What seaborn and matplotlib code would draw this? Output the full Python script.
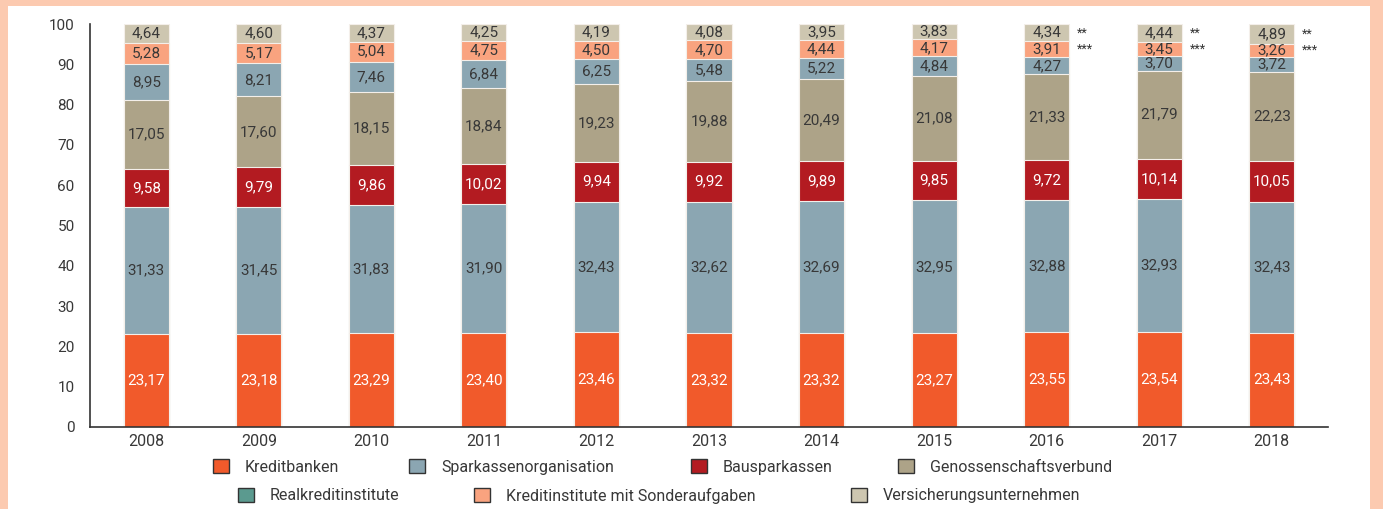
import matplotlib
matplotlib.use("Agg")
import matplotlib.pyplot as plt
import seaborn as sns
import numpy as np
import pandas as pd
from matplotlib.patches import Rectangle

years = ["2008", "2009", "2010", "2011", "2012", "2013", "2014", "2015", "2016", "2017", "2018"]
kreditbanken = [23.17, 23.18, 23.29, 23.40, 23.46, 23.32, 23.32, 23.27, 23.55, 23.54, 23.43]
sparkassen = [31.33, 31.45, 31.83, 31.90, 32.43, 32.62, 32.69, 32.95, 32.88, 32.93, 32.43]
bausparkassen = [9.58, 9.79, 9.86, 10.02, 9.94, 9.92, 9.89, 9.85, 9.72, 10.14, 10.05]
genossenschaft = [17.05, 17.60, 18.15, 18.84, 19.23, 19.88, 20.49, 21.08, 21.33, 21.79, 22.23]
realkredit = [8.95, 8.21, 7.46, 6.84, 6.25, 5.48, 5.22, 4.84, 4.27, 3.70, 3.72]
sonderaufgaben = [5.28, 5.17, 5.04, 4.75, 4.50, 4.70, 4.44, 4.17, 3.91, 3.45, 3.26]
versicherung = [4.64, 4.60, 4.37, 4.25, 4.19, 4.08, 3.95, 3.83, 4.34, 4.44, 4.89]
star_years = ["2016", "2017", "2018"]

legend_names = ["Kreditbanken", "Sparkassenorganisation", "Bausparkassen", "Genossenschaftsverbund",
                "Realkreditinstitute", "Kreditinstitute mit Sonderaufgaben", "Versicherungsunternehmen"]
legend_colors = ["#F15A2B", "#8BA6B2", "#B31B21", "#ADA388", "#5B9A8F", "#F9A37F", "#CDC6B0"]

# stacked segments (bottom to top) with the colours seen in the bars
segments = [kreditbanken, sparkassen, bausparkassen, genossenschaft, realkredit, sonderaufgaben, versicherung]
seg_colors = ["#F15A2B", "#8BA6B2", "#B31B21", "#ADA388", "#8BA6B2", "#F9A37F", "#CDC6B0"]
seg_text = ["white", "#383838", "white", "#383838", "#383838", "#383838", "#383838"]

sns.set_style("white")
plt.rcParams["font.family"] = ["Roboto", "DejaVu Sans"]

W, H = 1383, 509
fig = plt.figure(figsize=(W / 100, H / 100), dpi=100)
fig.patch.set_facecolor("#FCCAB0")
fig.patches.append(Rectangle((8 / W, 0), (1370 - 8) / W, 1 - 6 / H, transform=fig.transFigure,
                             facecolor="white", edgecolor="none", zorder=-5))

ax = fig.add_axes([90 / W, 1 - 427 / H, (1328 - 90) / W, (427 - 24) / H])
ax.set_facecolor("none")

arr = np.array(segments)
cum = np.cumsum(arr, axis=0)
for i in range(len(segments) - 1, -1, -1):
    df = pd.DataFrame({"year": years, "val": cum[i]})
    sns.barplot(data=df, x="year", y="val", color=seg_colors[i], width=0.4, saturation=1,
                edgecolor="#F4EFEA", linewidth=0.8, ax=ax, zorder=2)

for i in range(len(segments)):
    for j, y in enumerate(years):
        mid = cum[i][j] - arr[i][j] / 2
        ax.text(j, mid, f"{arr[i][j]:.2f}".replace(".", ","), ha="center", va="center",
                fontsize=11, color=seg_text[i], zorder=5)

for y in star_years:
    j = years.index(y)
    ax.text(j + 0.27, cum[6][j] - arr[6][j] / 2, "**", ha="left", va="center", fontsize=9, color="#333333")
    ax.text(j + 0.27, cum[5][j] - arr[5][j] / 2, "***", ha="left", va="center", fontsize=9, color="#333333")

ax.set_xlim(-0.5, len(years) - 0.5)
ax.set_ylim(0, 100)
ax.set_yticks(range(0, 101, 10))
ax.set_xlabel("")
ax.set_ylabel("")
for s in ["top", "right"]:
    ax.spines[s].set_visible(False)
for s in ["left", "bottom"]:
    ax.spines[s].set_color("#333333")
    ax.spines[s].set_linewidth(1.2)
ax.set_xticks(np.arange(-0.5, len(years), 1.0), minor=True)
ax.tick_params(axis="x", which="major", length=0, labelsize=11.5, labelcolor="#383838", pad=5)
ax.tick_params(axis="x", which="minor", length=5, width=1, color="#333333", direction="out")
ax.tick_params(axis="y", length=5, width=1, color="#333333", direction="out", labelsize=11,
               labelcolor="#383838", pad=6)

# legend items, one per entry, placed like the reference's irregular rows
leg_x = [213, 409, 691, 898, 238, 474, 851]
leg_y = [467, 467, 467, 467, 495.5, 495.5, 495.5]
lfont = {"family": ["Roboto", "DejaVu Sans"], "size": 11.5}
for name, col, lx, ly in zip(legend_names, legend_colors, leg_x, leg_y):
    h = Rectangle((0, 0), 1, 1, facecolor=col, edgecolor="#333333", linewidth=1.0)
    fig.legend([h], [name], loc="center left", bbox_to_anchor=(lx / W, 1 - ly / H),
               frameon=False, prop=lfont, handlelength=1.0, handleheight=1.0,
               borderpad=0, borderaxespad=0, handletextpad=1.0, labelcolor="#383838")

fig.savefig("out.png", dpi=100, facecolor=fig.get_facecolor())
